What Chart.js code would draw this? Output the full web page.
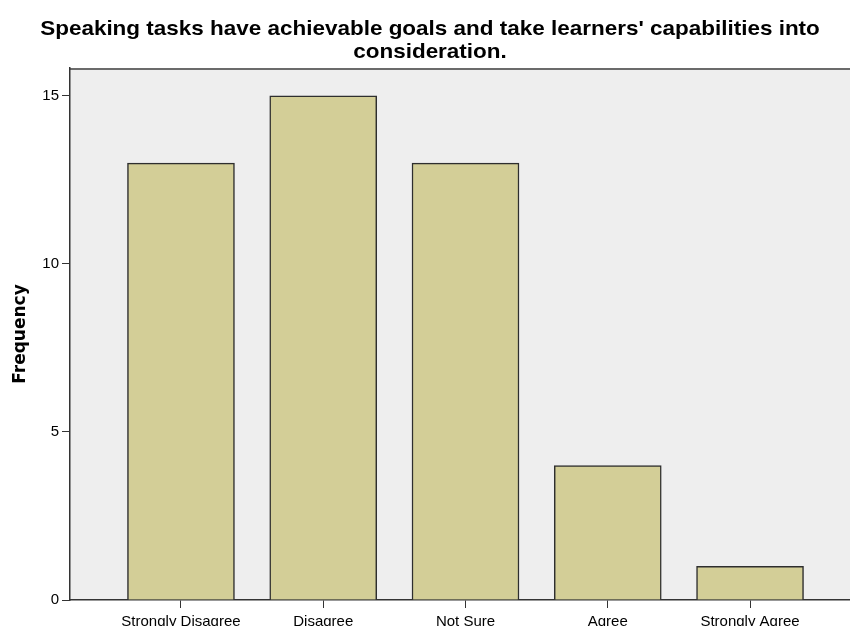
<!DOCTYPE html>
<html>
<head>
<meta charset="utf-8">
<script src="https://cdn.jsdelivr.net/npm/chart.js@4.4.1/dist/chart.umd.min.js"></script>
<style>
    html, body { margin: 0; padding: 0; background: #fff; overflow: hidden; }
    #wrap { width: 861px; height: 640px; }
</style>
</head>
<body>
<div id="wrap"><canvas id="chart" width="861" height="640"></canvas></div>
<script>
// 응답 범주와 빈도
const categories = ['Strongly Disagree', 'Disagree', 'Not Sure', 'Agree', 'Strongly Agree'];
const frequencies = [13, 15, 13, 4, 1];
const yTicks = [0, 5, 10, 15];

const titleLines = [
    "Speaking tasks have achievable goals and take learners' capabilities into",
    'consideration.'
];

// 플롯 영역 배경과 위쪽 테두리
const plotBackground = {
    id: 'plotBackground',
    beforeDraw(chart) {
        const { ctx, chartArea: a } = chart;
        ctx.save();
        ctx.fillStyle = '#eeeeee';
        ctx.fillRect(a.left, a.top, a.right - a.left, a.bottom - a.top);
        ctx.strokeStyle = '#6b6b6b';
        ctx.lineWidth = 2;
        ctx.beginPath();
        ctx.moveTo(a.left, a.top + 1);
        ctx.lineTo(a.right, a.top + 1);
        ctx.stroke();
        ctx.restore();
    }
};

// 두 줄 제목
const chartTitle = {
    id: 'chartTitle',
    afterDraw(chart) {
        const { ctx } = chart;
        ctx.save();
        ctx.fillStyle = '#000';
        ctx.font = 'bold 21px Arial, "Liberation Sans"';
        ctx.textAlign = 'center';
        ctx.textBaseline = 'alphabetic';
        ctx.translate(430, 0);
        ctx.scale(1.07, 1);
        titleLines.forEach((line, i) => {
            ctx.fillText(line, 0, 35 + i * 23);
        });
        ctx.restore();
    }
};

const ctx = document.getElementById('chart').getContext('2d');

new Chart(ctx, {
    type: 'bar',
    data: {
        datasets: [{
            data: frequencies.map((v, i) => ({ x: i + 1, y: v })),
            backgroundColor: '#d3ce97',
            borderColor: '#2e2e2e',
            borderWidth: 1.5,
            barThickness: 107
        }]
    },
    options: {
        responsive: false,
        animation: false,
        layout: { padding: { top: 68, left: 0, right: 0, bottom: 0 } },
        plugins: {
            legend: { display: false },
            tooltip: { enabled: false },
            title: { display: false }
        },
        scales: {
            x: {
                type: 'linear',
                offset: false,
                min: 0.22,
                max: 5.78,
                afterBuildTicks: scale => {
                    scale.ticks = categories.map((c, i) => ({ value: i + 1 }));
                },
                afterFit: scale => { scale.height = 40; },
                grid: { offset: false, drawOnChartArea: false, drawTicks: true, tickLength: 8, color: '#333' },
                border: { display: true, color: '#333', width: 1.5 },
                ticks: {
                    autoSkip: false,
                    maxRotation: 0,
                    padding: 5,
                    color: '#000',
                    font: { family: 'Arial, "Liberation Sans"', size: 15 },
                    callback: v => categories[v - 1]
                }
            },
            y: {
                min: 0,
                max: 15.83,
                afterBuildTicks: scale => {
                    scale.ticks = yTicks.map(v => ({ value: v }));
                },
                afterFit: scale => { scale.width = 70; },
                grid: { drawOnChartArea: false, drawTicks: true, tickLength: 8, color: '#333' },
                border: { display: true, color: '#333', width: 1.5 },
                ticks: {
                    padding: 3,
                    color: '#000',
                    font: { family: 'Arial, "Liberation Sans"', size: 15 }
                },
                title: {
                    display: true,
                    text: 'Frequency',
                    color: '#000',
                    font: { family: '"DejaVu Sans"', size: 17, weight: 'bold' },
                    padding: { top: 10, bottom: 0 }
                }
            }
        }
    },
    plugins: [plotBackground, chartTitle]
});
</script>
</body>
</html>
